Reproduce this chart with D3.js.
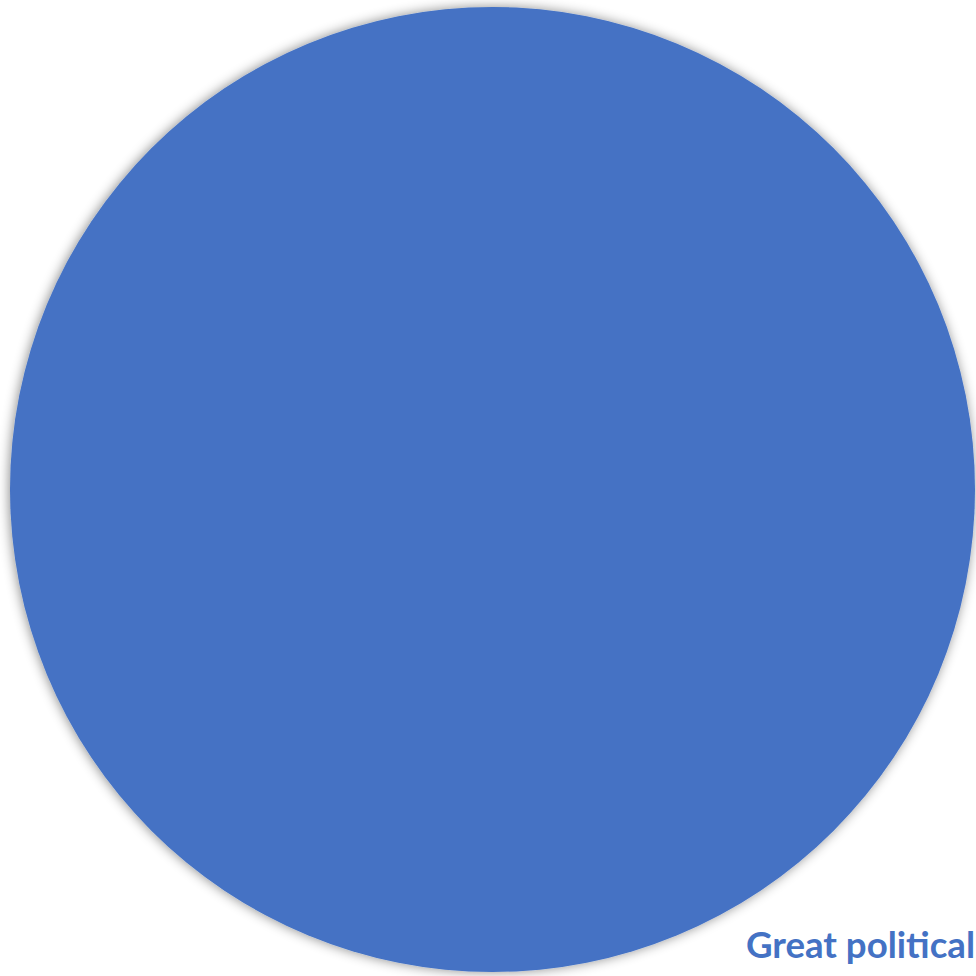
<!DOCTYPE html>
<html>
<head>
<meta charset="utf-8">
<script src="https://cdn.jsdelivr.net/npm/d3@7"></script>
<style>
  body { margin: 0; background: #fff; }
  svg { display: block; }
</style>
</head>
<body>
<script>
// Chart data
const categories = ["Great political"];
const values = [100];

const width = 976, height = 976;
const cx = 492.5, cy = 489.5, radius = 482.5;
const sliceColor = "#4472C4";

const svg = d3.select("body").append("svg")
    .attr("width", width)
    .attr("height", height);

// soft shadow around the pie
const defs = svg.append("defs");
const filter = defs.append("filter")
    .attr("id", "shadow")
    .attr("x", "-10%").attr("y", "-10%")
    .attr("width", "120%").attr("height", "120%");
filter.append("feDropShadow")
    .attr("dx", -1).attr("dy", 0)
    .attr("stdDeviation", 6)
    .attr("flood-color", "#000")
    .attr("flood-opacity", 0.45);

const data = categories.map((c, i) => ({ name: c, value: values[i] }));

const pie = d3.pie().value(d => d.value).sort(null);
const arc = d3.arc().innerRadius(0).outerRadius(radius);

const g = svg.append("g")
    .attr("transform", `translate(${cx},${cy})`);

g.selectAll("path")
    .data(pie(data))
    .enter()
    .append("path")
    .attr("d", arc)
    .attr("fill", sliceColor)
    .attr("filter", "url(#shadow)");

// data label (sits at the bottom right corner)
svg.append("text")
    .attr("x", 975)
    .attr("y", 958)
    .attr("text-anchor", "end")
    .attr("fill", sliceColor)
    .attr("textLength", 229)
    .attr("lengthAdjust", "spacingAndGlyphs")
    .style("font-family", "Lato, 'Open Sans', sans-serif")
    .style("font-weight", "bold")
    .style("font-size", "36px")
    .text(data[0].name);
</script>
</body>
</html>
